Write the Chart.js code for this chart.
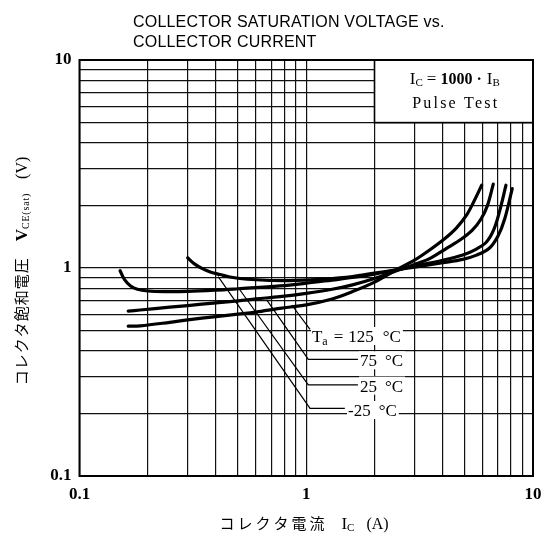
<!DOCTYPE html>
<html><head><meta charset="utf-8">
<script src="https://cdn.jsdelivr.net/npm/chart.js@4/dist/chart.umd.min.js"></script>
<style>html,body{margin:0;padding:0;background:#fff}canvas{display:block}</style>
</head><body>
<canvas id="c" width="553" height="540" style="width:553px;height:540px"></canvas>
<script>
// ---- data ----
const gridValues = [0.1,0.2,0.3,0.4,0.5,0.6,0.7,0.8,0.9,1,2,3,4,5,6,7,8,9,10];
const labeledTicks = [0.1, 1, 10];
const labeledTickText = ['0.1', '1', '10'];

const seriesNames = ['Ta = 125 °C', '75 °C', '25 °C', '-25 °C'];
// Ta = 125 °C
const ic125 = [0.164,0.185,0.25,0.3,0.4,0.5,0.6,0.765,1.0,1.3,1.6,2.0,2.5,3.0,3.5,4.1,4.6,5.1,5.5,5.94];
const v125  = [0.525,0.527,0.548,0.563,0.584,0.600,0.614,0.640,0.665,0.71,0.77,0.855,0.98,1.09,1.22,1.39,1.56,1.80,2.10,2.50];
// Ta = 75 °C
const ic75 = [0.164,0.185,0.25,0.3,0.4,0.5,0.6,0.765,1.0,1.3,1.6,2.0,2.5,3.0,3.5,4.14,4.8,5.4,5.9,6.3,6.68];
const v75  = [0.620,0.628,0.648,0.660,0.680,0.695,0.710,0.728,0.755,0.79,0.83,0.89,0.97,1.04,1.11,1.24,1.37,1.52,1.72,2.00,2.53];
// Ta = 25 °C
const ic25 = [0.151,0.158,0.168,0.18,0.2,0.24,0.3,0.4,0.5,0.765,1.0,1.3,1.6,2.0,2.5,3.0,4.0,4.9,5.6,6.22,6.7,7.1,7.6];
const v25  = [0.97,0.88,0.82,0.79,0.775,0.77,0.772,0.783,0.795,0.82,0.845,0.875,0.90,0.935,0.98,1.02,1.09,1.155,1.23,1.33,1.52,1.85,2.50];
// Ta = -25 °C
const icm25 = [0.30,0.32,0.35,0.38,0.417,0.46,0.51,0.6,0.715,0.9,1.2,1.6,2.0,2.5,3.0,4.0,4.9,5.6,6.4,7.0,7.5,8.1];
const vm25  = [1.12,1.05,0.99,0.955,0.93,0.905,0.89,0.878,0.871,0.872,0.885,0.91,0.945,0.98,1.01,1.06,1.10,1.15,1.24,1.42,1.72,2.41];

// leader lines (data units): curve point -> label corner -> horizontal tail
const leaderFromX = [0.863, 0.669, 0.510, 0.409];
const leaderFromY = [0.664, 0.702, 0.784, 0.908];
const leaderToX   = [1.039, 1.021, 1.021, 1.039];
const leaderToY   = [0.507, 0.364, 0.274, 0.2116];
const leaderTailX = [1.039, 1.69, 1.69, 1.48];
const labelX = [1.06, 1.726, 1.726, 1.528];
const labelY = [0.471, 0.360, 0.272, 0.2076];

// condition box (data units)
const boxX = [2, 10];
const boxY = [5, 10];

// ---- helpers ----
function partsWidth(ctx, parts){
  let w = 0;
  for (const p of parts){
    ctx.font = p.font; ctx.letterSpacing = p.ls || '0px';
    w += ctx.measureText(p.text).width + (p.gap || 0);
  }
  ctx.letterSpacing = '0px';
  return w;
}
function drawParts(ctx, parts, x, y, align){
  const total = partsWidth(ctx, parts);
  let cx = align === 'center' ? x - total/2 : x;
  ctx.textAlign = 'left';
  ctx.textBaseline = 'alphabetic';
  for (const p of parts){
    ctx.font = p.font; ctx.letterSpacing = p.ls || '0px';
    ctx.fillText(p.text, cx, y + (p.dy || 0));
    cx += ctx.measureText(p.text).width + (p.gap || 0);
  }
  ctx.letterSpacing = '0px';
  return total;
}
const SERIF = '"Liberation Serif", "DejaVu Serif", serif';
const SANS = '"Liberation Sans", Arial, sans-serif';
const CJK = '"Noto Sans CJK JP", sans-serif';

function labelParts(i){
  const f = '17px ' + SERIF;
  if (i === 0) return [
    {text:'T', font:f, gap:0},
    {text:'a', font:'12px ' + SERIF, dy:3, gap:6},
    {text:'=', font:f, gap:5},
    {text:'125', font:f, gap:9},
    {text:'°C', font:f}
  ];
  const num = ['', '75', '25', '-25'][i];
  return [{text:num, font:f, gap:8}, {text:'°C', font:f}];
}

const decorPlugin = {
  id: 'decor',
  afterDatasetsDraw(chart){
    const ctx = chart.ctx, xs = chart.scales.x, ys = chart.scales.y, a = chart.chartArea;
    ctx.save();
    // leader lines
    ctx.strokeStyle = '#000'; ctx.lineWidth = 1.2;
    for (let i = 0; i < leaderFromX.length; i++){
      ctx.beginPath();
      ctx.moveTo(xs.getPixelForValue(leaderFromX[i]), ys.getPixelForValue(leaderFromY[i]));
      ctx.lineTo(xs.getPixelForValue(leaderToX[i]), ys.getPixelForValue(leaderToY[i]));
      ctx.lineTo(xs.getPixelForValue(leaderTailX[i]), ys.getPixelForValue(leaderToY[i]));
      ctx.stroke();
    }
    // labels with white backgrounds
    ctx.fillStyle = '#000';
    for (let i = 0; i < labelX.length; i++){
      const parts = labelParts(i);
      const px = xs.getPixelForValue(labelX[i]);
      const py = ys.getPixelForValue(labelY[i]);
      const w = partsWidth(ctx, parts);
      ctx.fillStyle = '#fff';
      ctx.fillRect(px - 1, py - 9, w + 3, 18);
      ctx.fillStyle = '#000';
      drawParts(ctx, parts, px, py + 6, 'left');
    }
    // condition box
    const bx0 = xs.getPixelForValue(boxX[0]), bx1 = xs.getPixelForValue(boxX[1]);
    const by0 = ys.getPixelForValue(boxY[1]), by1 = ys.getPixelForValue(boxY[0]);
    ctx.fillStyle = '#fff';
    ctx.fillRect(bx0, by0, bx1 - bx0, by1 - by0);
    ctx.strokeStyle = '#000'; ctx.lineWidth = 1.6;
    ctx.strokeRect(bx0, by0, bx1 - bx0, by1 - by0);
    ctx.fillStyle = '#000';
    const cx = (bx0 + bx1) / 2 + 1;
    drawParts(ctx, [
      {text:'I', font:'17px ' + SERIF, gap:0},
      {text:'C', font:'11px ' + SERIF, dy:2, gap:4},
      {text:'=', font:'17px ' + SERIF, gap:4},
      {text:'1000', font:'bold 16px ' + SERIF, gap:4},
      {text:'·', font:'bold 16px ' + SERIF, gap:5},
      {text:'I', font:'17px ' + SERIF, gap:0},
      {text:'B', font:'11px ' + SERIF, dy:2}
    ], cx, 84, 'center');
    drawParts(ctx, [{text:'Pulse Test', font:'16px ' + SERIF, ls:'2.2px'}], cx + 1, 108, 'center');
    // plot frame
    ctx.lineWidth = 2; ctx.strokeStyle = '#000';
    ctx.strokeRect(a.left, a.top, a.right - a.left, a.bottom - a.top);
    ctx.restore();
  },
  afterDraw(chart){
    const ctx = chart.ctx;
    ctx.save();
    ctx.fillStyle = '#000';
    // chart title
    drawParts(ctx, [{text:'COLLECTOR SATURATION VOLTAGE vs.', font:'16px ' + SANS, ls:'0.2px'}], 133, 27, 'left');
    drawParts(ctx, [{text:'COLLECTOR CURRENT', font:'16px ' + SANS, ls:'0.2px'}], 133, 47, 'left');
    // x axis title
    drawParts(ctx, [
      {text:'コレクタ電流', font:'15px ' + CJK, ls:'3px', gap:14},
      {text:'I', font:'17px ' + SERIF, gap:0},
      {text:'C', font:'11px ' + SERIF, dy:2, gap:12},
      {text:'(A)', font:'16px ' + SERIF}
    ], 304, 529, 'center');
    // y axis title (rotated)
    ctx.translate(27, 271);
    ctx.rotate(-Math.PI / 2);
    drawParts(ctx, [
      {text:'コレクタ飽和電圧', font:'15px ' + CJK, ls:'1px', gap:16},
      {text:'V', font:'bold 17px ' + SERIF, gap:0},
      {text:'CE(sat)', font:'10px ' + SERIF, dy:2, ls:'0.8px', gap:14},
      {text:'(V)', font:'16px ' + SERIF}
    ], 0, 0, 'center');
    ctx.restore();
  }
};

function mk(xsArr, ysArr){ return xsArr.map((v, i) => ({x: v, y: ysArr[i]})); }
const dsStyle = {borderColor:'#000', borderWidth:3.2, pointRadius:0, fill:false, tension:0.35, borderCapStyle:'round', borderJoinStyle:'round'};

const tickCb = (v) => { const k = labeledTicks.findIndex(t => Math.abs(t - v) < 1e-9); return k >= 0 ? labeledTickText[k] : ''; };
const setTicks = (s) => { s.ticks = gridValues.map(v => ({value: v})); };

new Chart(document.getElementById('c'), {
  type: 'line',
  data: {
    datasets: [
      Object.assign({label: seriesNames[0], data: mk(ic125, v125)}, dsStyle),
      Object.assign({label: seriesNames[1], data: mk(ic75, v75)}, dsStyle),
      Object.assign({label: seriesNames[2], data: mk(ic25, v25)}, dsStyle),
      Object.assign({label: seriesNames[3], data: mk(icm25, vm25)}, dsStyle)
    ]
  },
  options: {
    responsive: false,
    animation: false,
    devicePixelRatio: 1,
    layout: {padding: {top: 60, right: 20, left: 0, bottom: 0}},
    plugins: {legend: {display: false}, tooltip: {enabled: false}, title: {display: false}},
    scales: {
      x: {
        type: 'logarithmic', min: 0.1, max: 10,
        afterBuildTicks: setTicks,
        afterFit: (s) => { s.height = 64; },
        grid: {color: '#111', lineWidth: 1.2, drawTicks: false},
        border: {display: false},
        ticks: {callback: tickCb, autoSkip: false, maxRotation: 0, padding: 8, color: '#000',
                font: {family: 'Liberation Serif', size: 17, weight: 'bold'}}
      },
      y: {
        type: 'logarithmic', min: 0.1, max: 10,
        afterBuildTicks: setTicks,
        afterFit: (s) => { s.width = 79.5; },
        grid: {color: '#111', lineWidth: 1.2, drawTicks: false},
        border: {display: false},
        ticks: {callback: tickCb, autoSkip: false, padding: 8, color: '#000',
                font: {family: 'Liberation Serif', size: 17, weight: 'bold'}}
      }
    }
  },
  plugins: [decorPlugin]
});
</script>
</body></html>
